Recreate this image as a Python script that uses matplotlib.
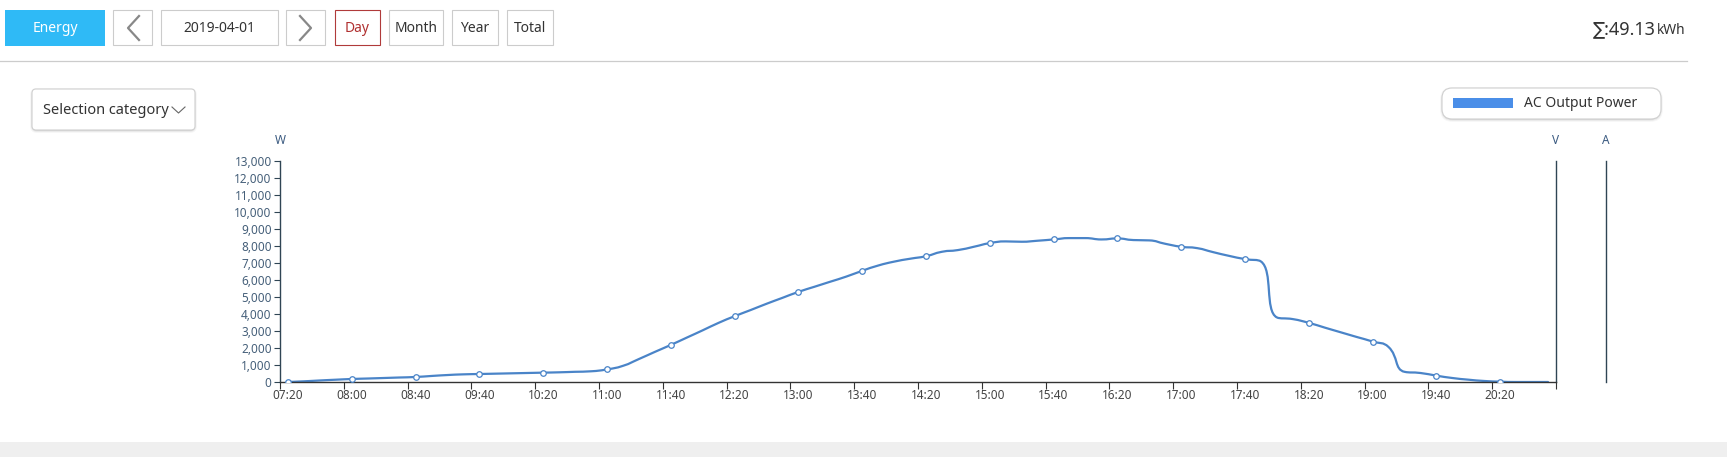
import matplotlib
matplotlib.use("Agg")
import matplotlib.pyplot as plt
import numpy as np
from matplotlib.path import Path
from matplotlib.patches import PathPatch, Rectangle, FancyBboxPatch

plt.rcParams["font.family"] = ["Noto Sans", "DejaVu Sans"]

# AC output power (W), one value per category (10 min steps, some gaps)
power = [
    0, 40, 90, 135, 177, 205, 235, 265, 295, 355,
    410, 450, 470, 490, 510, 530, 550, 570, 600, 630,
    740, 950, 1350, 1770, 2180, 2610, 3040, 3480, 3870, 4230,
    4600, 4950, 5300, 5600, 5900, 6200, 6540, 6850, 7080, 7250,
    7400, 7660, 7760, 7955, 8170, 8270, 8250, 8310, 8385, 8465,
    8465, 8385, 8445, 8350, 8330, 8130, 7955, 7875, 7640, 7420,
    7230, 7090, 3800, 3700, 3480, 3200, 2925, 2650, 2380, 2060,
    600, 530, 373, 235, 137, 60, 20, 0, 0, 0,
]
tick_labels = [
    "07:20", "08:00", "08:40", "09:40", "10:20", "11:00", "11:40", "12:20",
    "13:00", "13:40", "14:20", "15:00", "15:40", "16:20", "17:00", "17:40",
    "18:20", "19:00", "19:40", "20:20",
]
label_every = 4
y_ticks = list(range(0, 13001, 1000))
total_kwh = "49.13"

LINE = "#4a84c8"
AXIS = "#2f4554"
W, H = 1727, 457


def smooth_path(xs, ys, sx, sy, smooth=0.5):
    # echarts-style bezier smoothing (control points kept between neighbours),
    # lengths measured in pixel space
    pts = np.column_stack([np.asarray(xs, float) * sx, np.asarray(ys, float) * sy])
    n = len(pts)
    cp_in = pts.copy()
    cp_out = pts.copy()
    for i in range(1, n - 1):
        p, prev, nxt = pts[i], pts[i - 1], pts[i + 1]
        v = nxt - prev
        len_prev = np.hypot(*(p - prev))
        len_next = np.hypot(*(nxt - p))
        if len_prev == 0 or len_next == 0:
            continue
        ratio = len_next / (len_next + len_prev)
        out = p + v * smooth * ratio
        out = np.clip(out, np.minimum(p, nxt), np.maximum(p, nxt))
        inn = p - (out - p) * len_prev / len_next
        inn = np.clip(inn, np.minimum(prev, p), np.maximum(prev, p))
        out = p + (p - inn) * len_next / len_prev
        cp_in[i], cp_out[i] = inn, out
    verts = [pts[0]]
    codes = [Path.MOVETO]
    for i in range(n - 1):
        verts += [cp_out[i], cp_in[i + 1], pts[i + 1]]
        codes += [Path.CURVE4] * 3
    verts = np.array(verts)
    verts[:, 0] /= sx
    verts[:, 1] /= sy
    return Path(verts, codes)


fig = plt.figure(figsize=(W / 100, H / 100), dpi=100)

# ---- page chrome in pixel coordinates
ui = fig.add_axes([0, 0, 1, 1])
ui.set_xlim(0, W)
ui.set_ylim(H, 0)
ui.set_axis_off()

ui.add_patch(Rectangle((0, 442), W, 15, color="#efefef", lw=0))
ui.plot([0, 1687], [60.5, 60.5], color="#cccccc", lw=0.9)

ui.add_patch(Rectangle((5, 10), 100, 36, color="#2fbaf6", lw=0))
ui.text(55, 28, "Energy", color="white", fontsize=10, ha="center", va="center")

buttons = [(113, 39, ""), (161, 117, "2019-04-01"), (286, 39, ""),
           (335, 45, "Day"), (389, 54, "Month"), (452, 46, "Year"), (507, 46, "Total")]
for bx, bw, txt in buttons:
    red = txt == "Day"
    ui.add_patch(Rectangle((bx, 10), bw, 35, fill=False,
                           ec="#b03a3a" if red else "#cccccc", lw=0.8))
    if txt:
        ui.text(bx + bw / 2, 28, txt, color="#b03030" if red else "#333333",
                fontsize=10, ha="center", va="center")
ui.plot([139, 128, 139], [16, 28, 40], color="#888888", lw=1.6)
ui.plot([300, 311, 300], [16, 28, 40], color="#888888", lw=1.6)

ui.text(1656, 34, "\u2211:" + total_kwh, color="#333333", fontsize=13,
        ha="right", va="baseline")
ui.text(1657, 34, "kWh", color="#333333", fontsize=10, ha="left", va="baseline")


def card(x, y, w, h, r):
    for k, a in ((3, 0.03), (2, 0.05), (1, 0.07)):
        ui.add_patch(FancyBboxPatch((x - k + 1, y - k + 2), w + 2 * k - 2, h + 2 * k - 2,
                                    boxstyle=f"round,pad=0,rounding_size={r + k}",
                                    fc="black", ec="none", alpha=a))
    ui.add_patch(FancyBboxPatch((x, y), w, h, boxstyle=f"round,pad=0,rounding_size={r}",
                                fc="white", ec="#d0d0d0", lw=0.8))


card(32, 89, 163, 41, 4)
ui.text(43, 110, "Selection category", color="#333333", fontsize=10.5, va="center")
ui.plot([172, 178.5, 185], [107, 113, 107], color="#666666", lw=0.8)

card(1442, 88, 219, 31, 10)
ui.add_patch(Rectangle((1453, 98), 60, 10, color="#4a8ee8", lw=0))
ui.text(1524, 103.5, "AC Output Power", color="#333333", fontsize=10, va="center")

# ---- chart
left, right, bottom, top = 280, 1556, 382, 161
ax = fig.add_axes([left / W, 1 - bottom / H, (right - left) / W, (bottom - top) / H])
ax.set_facecolor("none")
n = len(power)
idx = np.arange(n)
ax.set_xlim(-0.5, n - 0.5)
ax.set_ylim(0, 13000)

sx = (right - left) / n
sy = (bottom - top) / 13000
ax.add_patch(PathPatch(smooth_path(idx, power, sx, sy), fill=False, ec=LINE, lw=1.6,
                       capstyle="round", joinstyle="round"))
mk = idx[::label_every]
ax.plot(mk, [power[i] for i in mk], "o", ms=4, mfc="white", mec=LINE, mew=0.9, zorder=3)

ax.set_yticks(y_ticks, [f"{v:,}" for v in y_ticks])
ax.tick_params(axis="y", length=4, width=0.8, color=AXIS, labelcolor="#46607a",
               labelsize=8.5, pad=2)
bounds = list(mk - 0.5) + [n - 0.5]
ax.set_xticks(bounds, [""] * len(bounds))
ax.set_xticks(mk, tick_labels, minor=True)
ax.tick_params(axis="x", which="major", length=5, width=0.8, color="#333333")
ax.tick_params(axis="x", which="minor", length=0, labelcolor="#444444",
               labelsize=8.5, pad=5)

ax.spines["top"].set_visible(False)
ax.spines["left"].set_color(AXIS)
ax.spines["right"].set_color(AXIS)
ax.spines["bottom"].set_color("#333333")
for s in ("left", "right", "bottom"):
    ax.spines[s].set_linewidth(1.0)

ax_a = ax.twinx()
ax_a.set_yticks([])
for s in ("top", "left", "bottom"):
    ax_a.spines[s].set_visible(False)
ax_a.spines["right"].set_position(("axes", 1 + 50 / (right - left)))
ax_a.spines["right"].set_color(AXIS)
ax_a.spines["right"].set_linewidth(1.0)

for x, name in ((left, "W"), (right, "V"), (1606, "A")):
    ui.text(x, 140, name, color="#3a5a80", fontsize=8.5, ha="center", va="center")

fig.savefig("out.png", dpi=100)
